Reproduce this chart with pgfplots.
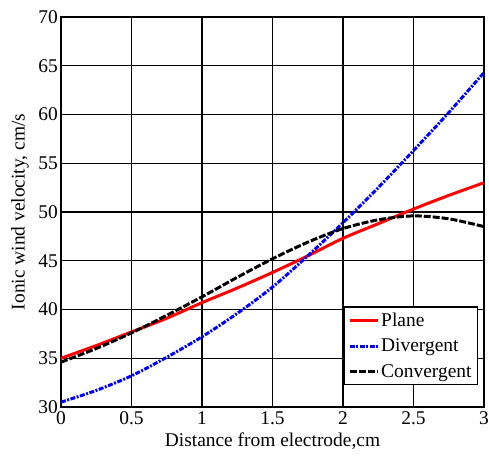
\documentclass[border=0pt]{standalone}
\usepackage{fontspec}
\setmainfont{Liberation Serif}
\usepackage{pgfplots}
\pgfplotsset{compat=1.18}
\begin{document}
\begin{tikzpicture}
\begin{axis}[
  at={(0,0)}, anchor=south west,
  scale only axis,
  width=423bp, height=390bp,
  xmin=0, xmax=3, ymin=30, ymax=70,
  xtick={0,0.5,...,3}, ytick={30,35,...,70},
  xticklabels={0,0.5,1,1.5,2,2.5,3},
  grid=major,
  major grid style={black, line width=1.2pt},
  axis line style={black, line width=1.8pt},
  tick style={draw=none},
  /pgf/number format/assume math mode=true,
  tick label style={font=\fontsize{19.5}{21}\selectfont},
  label style={font=\fontsize{19.5}{21}\selectfont},
  xlabel={Distance from electrode,cm},
  ylabel={Ionic wind velocity, cm/s},
  xlabel style={at={([yshift=-34bp]axis description cs:0.5,0)}, anchor=center},
  ylabel style={at={([xshift=-41bp]axis description cs:0,0.5)}, anchor=center, rotate=0},
  xticklabel style={inner sep=1pt, yshift=-3bp},
  yticklabel style={inner sep=1pt, xshift=-2bp},
  legend style={at={(0.986,0.056)}, anchor=south east, draw=black, line width=1.2pt,
    font=\fontsize{19.5}{21}\selectfont, row sep=7bp, inner sep=4pt, cells={anchor=west}},
  legend image code/.code={\draw[#1, line width=3pt] (0bp,0bp) -- (28bp,0bp);},
  legend cell align=left,
]
\addplot[red, line width=3pt, smooth] coordinates {
(0,35.0) (0.25,36.3) (0.5,37.7) (0.75,39.1) (1,40.7) (1.25,42.2) (1.5,43.8) (1.75,45.5) (2,47.3) (2.25,48.8) (2.5,50.3) (2.75,51.7) (3,53.0)};
\addlegendentry{Plane}
\addplot[blue, line width=3pt, smooth, dash pattern=on 5pt off 1.5pt on 2pt off 1.5pt] coordinates {
(0,30.5) (0.25,31.7) (0.5,33.2) (0.75,35.1) (1,37.2) (1.25,39.6) (1.5,42.3) (1.75,45.5) (2,48.9) (2.25,52.5) (2.5,56.3) (2.75,60.2) (3,64.3)};
\addlegendentry{Divergent}
\addplot[black, line width=3pt, smooth, dash pattern=on 7pt off 2pt] coordinates {
(0,34.6) (0.25,36.0) (0.5,37.6) (0.75,39.4) (1,41.3) (1.25,43.3) (1.5,45.2) (1.75,46.9) (2,48.3) (2.25,49.2) (2.5,49.6) (2.75,49.3) (3,48.5)};
\addlegendentry{Convergent}
\end{axis}
\pgfresetboundingbox
\useasboundingbox (-61bp,-50bp) rectangle (428bp,407bp);
\end{tikzpicture}
\end{document}
